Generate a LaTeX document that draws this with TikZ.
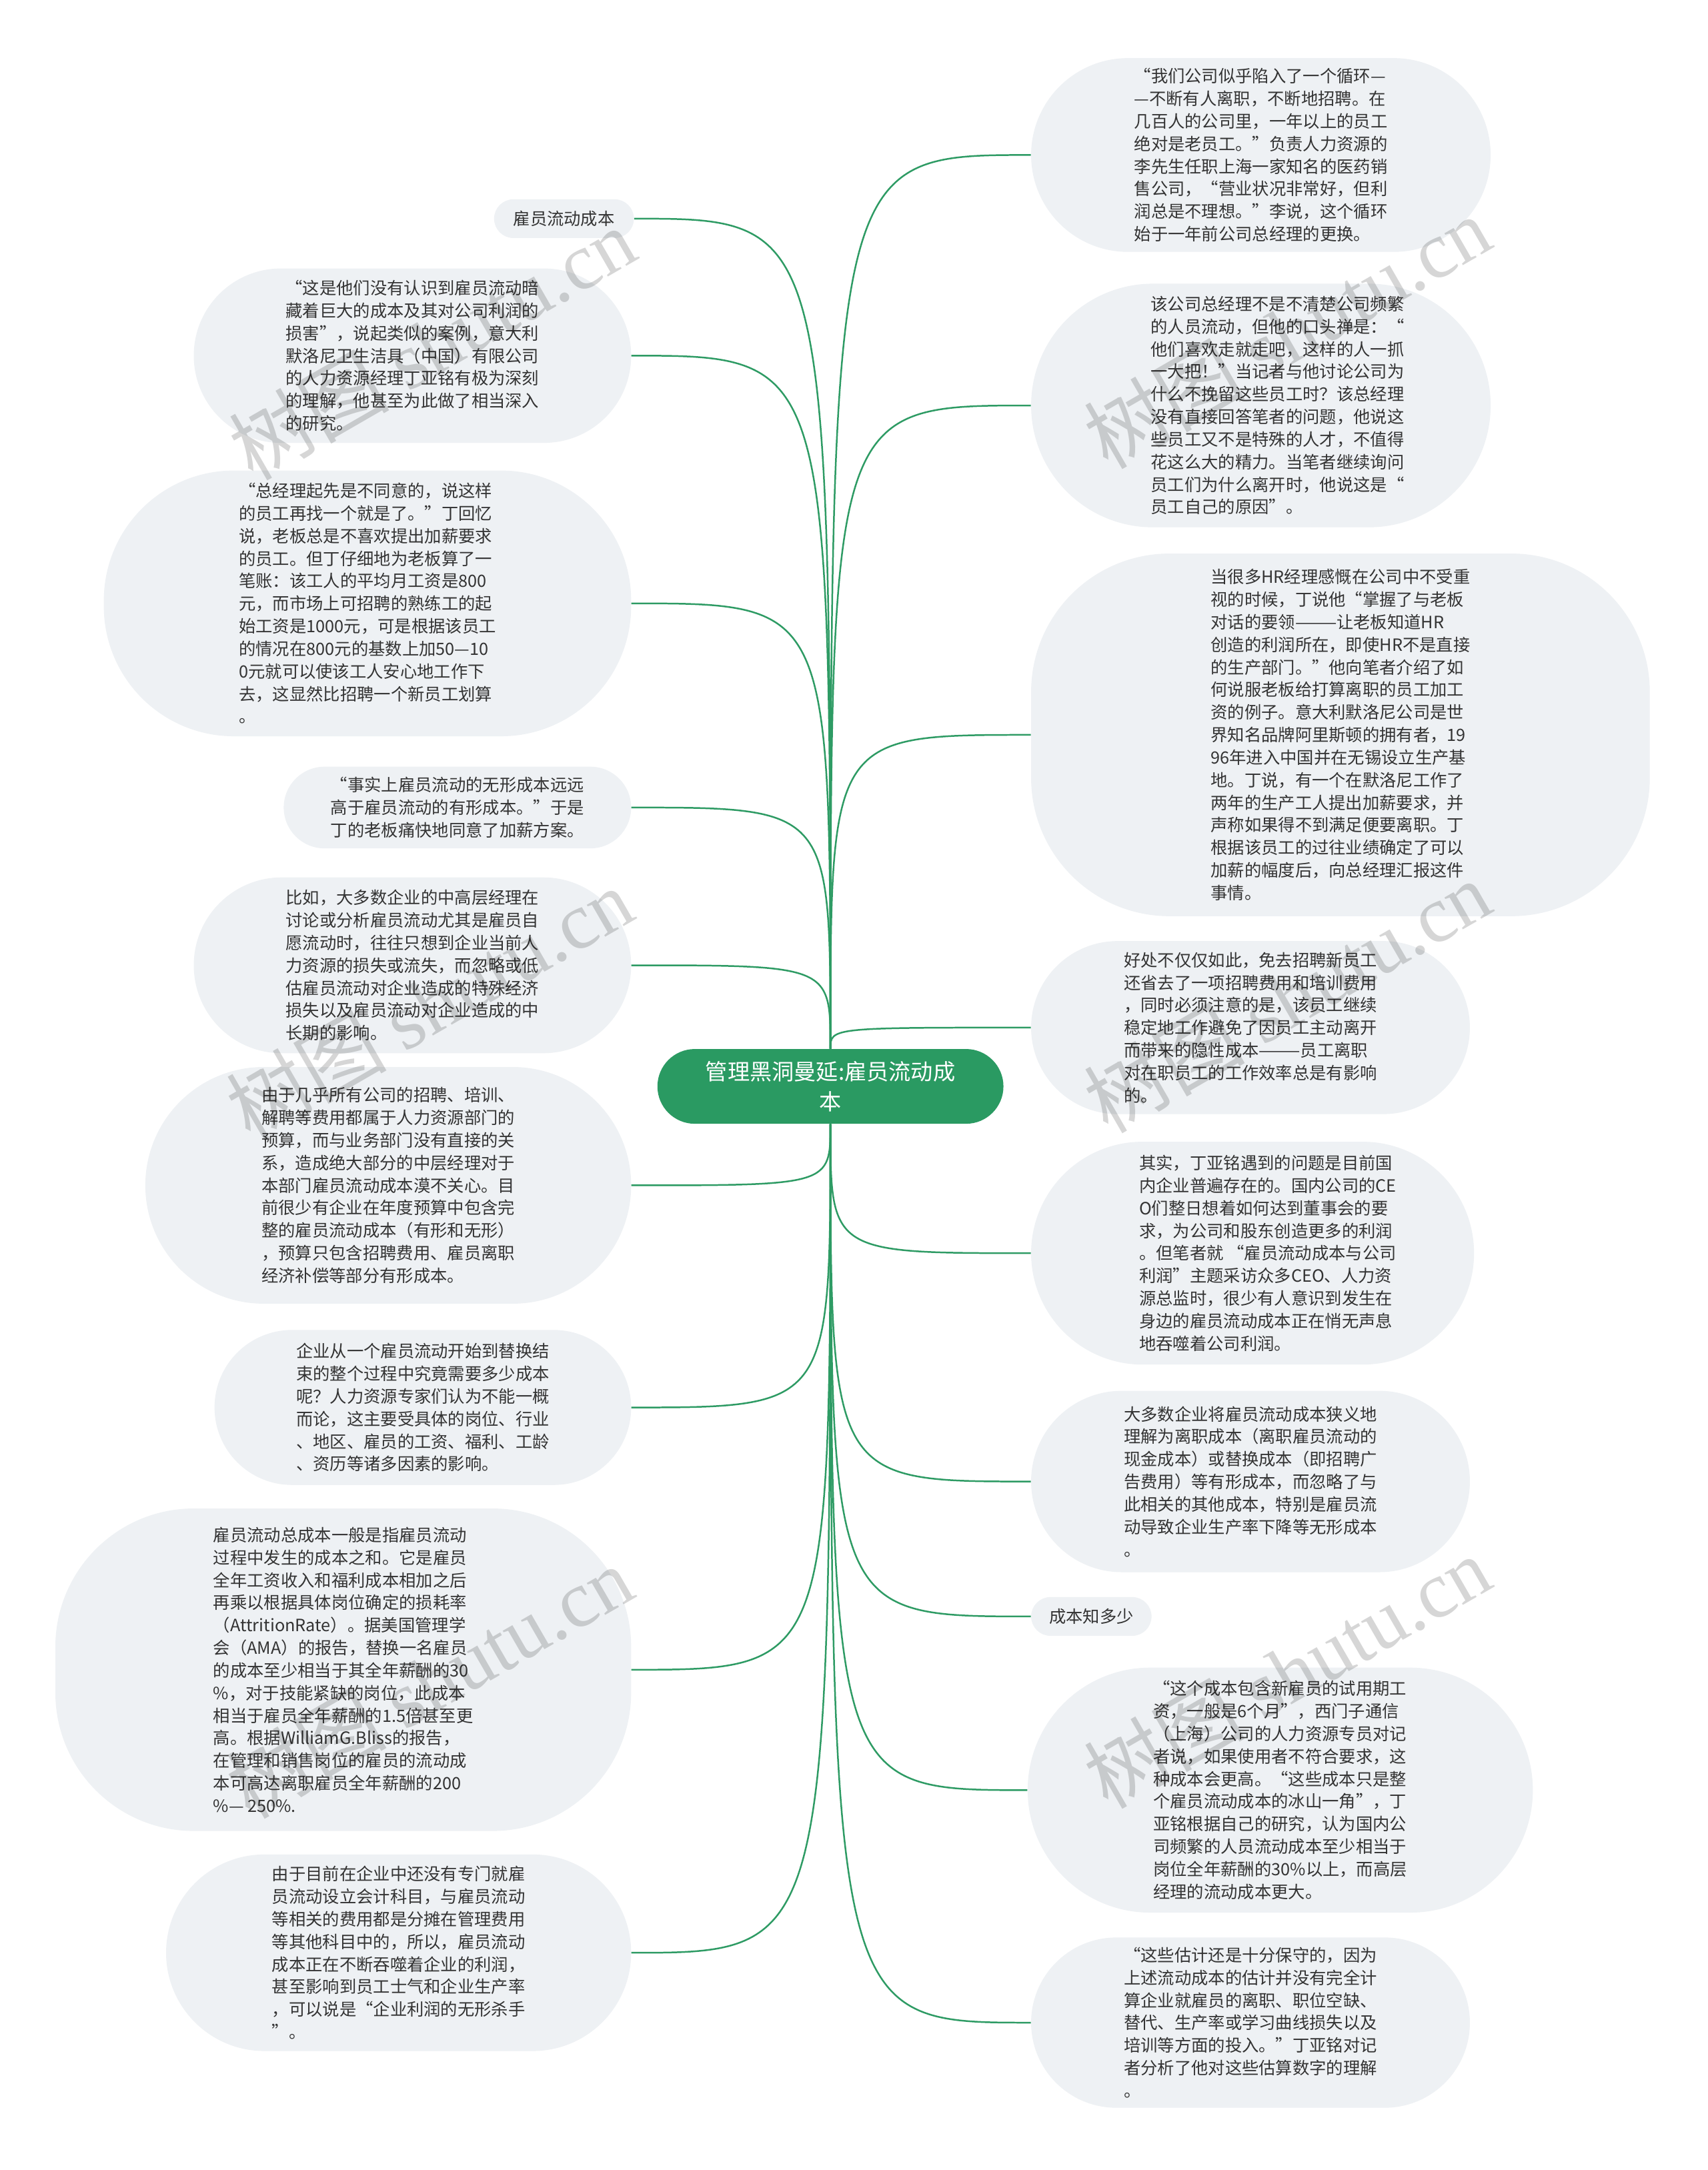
\documentclass[tikz,border=0pt]{standalone}
\usepackage{fontspec}
\setmainfont{Noto Sans CJK SC}
\newfontfamily\wmlatin{Liberation Serif}
\definecolor{nodefill}{HTML}{EEF1F4}
\definecolor{rootfill}{HTML}{2A9A62}
\definecolor{edgegreen}{HTML}{2E9B64}
\definecolor{txt}{HTML}{333333}
\tikzset{
  topic/.style={fill=nodefill, text=txt, font=\fontsize{12.2}{16.3}\selectfont, align=left, inner sep=0pt},
  box/.style n args={3}{minimum width=#1pt, minimum height=#2pt, rounded corners=#3pt},
  root/.style={fill=rootfill, text=white, font=\fontsize{16}{22}\selectfont, align=center, inner sep=0pt},
  conn/.style={draw=edgegreen, line width=1.2pt},
  wm/.style={text=black, opacity=0.16, font=\fontsize{58}{60}\selectfont, inner sep=0pt, rotate=30}
}
\begin{document}
\begin{tikzpicture}[x=1pt,y=-1pt]
\useasboundingbox[fill=white] (0,0) rectangle (1234,1568);

% root
\node[root, minimum width=250pt, minimum height=54pt, rounded corners=27pt] (c) at (600,785) {管理黑洞曼延:雇员流动成\\本};

% left nodes
\node[topic, box={101}{28}{14}] (L1) at (407.5,158) {雇员流动成本};
\node[topic, box={316}{126}{63}] (L2) at (298,257) {“这是他们没有认识到雇员流动暗\\藏着巨大的成本及其对公司利润的\\损害”，说起类似的案例，意大利\\默洛尼卫生洁具（中国）有限公司\\的人力资源经理丁亚铭有极为深刻\\的理解，他甚至为此做了相当深入\\的研究。};
\node[topic, box={381}{192}{94}] (L3) at (265.5,436) {“总经理起先是不同意的，说这样\\的员工再找一个就是了。”丁回忆\\说，老板总是不喜欢提出加薪要求\\的员工。但丁仔细地为老板算了一\\笔账：该工人的平均月工资是800\\元，而市场上可招聘的熟练工的起\\始工资是1000元，可是根据该员工\\的情况在800元的基数上加50—10\\0元就可以使该工人安心地工作下\\去，这显然比招聘一个新员工划算\\。};
\node[topic, box={251}{59}{29.5}] (L4) at (330.5,583.5) {“事实上雇员流动的无形成本远远\\高于雇员流动的有形成本。”于是\\丁的老板痛快地同意了加薪方案。};
\node[topic, box={316}{127}{63.5}] (L5) at (298,697.5) {比如，大多数企业的中高层经理在\\讨论或分析雇员流动尤其是雇员自\\愿流动时，往往只想到企业当前人\\力资源的损失或流失，而忽略或低\\估雇员流动对企业造成的特殊经济\\损失以及雇员流动对企业造成的中\\长期的影响。};
\node[topic, box={351}{171}{85.5}] (L6) at (280.5,856.5) {由于几乎所有公司的招聘、培训、\\解聘等费用都属于人力资源部门的\\预算，而与业务部门没有直接的关\\系，造成绝大部分的中层经理对于\\本部门雇员流动成本漠不关心。目\\前很少有企业在年度预算中包含完\\整的雇员流动成本（有形和无形）\\，预算只包含招聘费用、雇员离职\\经济补偿等部分有形成本。};
\node[topic, box={301}{112}{56}] (L7) at (305.5,1017) {企业从一个雇员流动开始到替换结\\束的整个过程中究竟需要多少成本\\呢？人力资源专家们认为不能一概\\而论，这主要受具体的岗位、行业\\、地区、雇员的工资、福利、工龄\\、资历等诸多因素的影响。};
\node[topic, box={416}{233}{100}] (L8) at (248,1206.5) {雇员流动总成本一般是指雇员流动\\过程中发生的成本之和。它是雇员\\全年工资收入和福利成本相加之后\\再乘以根据具体岗位确定的损耗率\\（AttritionRate）。据美国管理学\\会（AMA）的报告，替换一名雇员\\的成本至少相当于其全年薪酬的30\\\%，对于技能紧缺的岗位，此成本\\相当于雇员全年薪酬的1.5倍甚至更\\高。根据WilliamG.Bliss的报告，\\在管理和销售岗位的雇员的流动成\\本可高达离职雇员全年薪酬的200\\\%— 250\%.};
\node[topic, box={336}{142}{71}] (L9) at (288,1411) {由于目前在企业中还没有专门就雇\\员流动设立会计科目，与雇员流动\\等相关的费用都是分摊在管理费用\\等其他科目中的，所以，雇员流动\\成本正在不断吞噬着企业的利润，\\甚至影响到员工士气和企业生产率\\，可以说是“企业利润的无形杀手\\”。};

% right nodes
\node[topic, box={332}{140}{70}] (R1) at (911,112) {“我们公司似乎陷入了一个循环—\\—不断有人离职，不断地招聘。在\\几百人的公司里，一年以上的员工\\绝对是老员工。”负责人力资源的\\李先生任职上海一家知名的医药销\\售公司，“营业状况非常好，但利\\润总是不理想。”李说，这个循环\\始于一年前公司总经理的更换。};
\node[topic, box={332}{176}{88}] (R2) at (911,293) {};
\node[topic, fill=none] (R2t) at (923,293) {该公司总经理不是不清楚公司频繁\\的人员流动，但他的口头禅是：“\\他们喜欢走就走吧，这样的人一抓\\一大把！”当记者与他讨论公司为\\什么不挽留这些员工时？该总经理\\没有直接回答笔者的问题，他说这\\些员工又不是特殊的人才，不值得\\花这么大的精力。当笔者继续询问\\员工们为什么离开时，他说这是“\\员工自己的原因”。};
\node[topic, box={447}{262}{100}] (R3) at (968.5,531) {当很多HR经理感慨在公司中不受重\\视的时候，丁说他“掌握了与老板\\对话的要领———让老板知道HR\\创造的利润所在，即使HR不是直接\\的生产部门。”他向笔者介绍了如\\何说服老板给打算离职的员工加工\\资的例子。意大利默洛尼公司是世\\界知名品牌阿里斯顿的拥有者，19\\96年进入中国并在无锡设立生产基\\地。丁说，有一个在默洛尼工作了\\两年的生产工人提出加薪要求，并\\声称如果得不到满足便要离职。丁\\根据该员工的过往业绩确定了可以\\加薪的幅度后，向总经理汇报这件\\事情。};
\node[topic, box={317}{125}{62.5}] (R4) at (903.5,742.5) {好处不仅仅如此，免去招聘新员工\\还省去了一项招聘费用和培训费用\\，同时必须注意的是，该员工继续\\稳定地工作避免了因员工主动离开\\而带来的隐性成本———员工离职\\对在职员工的工作效率总是有影响\\的。};
\node[topic, box={320}{161}{80.5}] (R5) at (905,905.5) {};
\node[topic, fill=none] (R5t) at (916,905.5) {其实，丁亚铭遇到的问题是目前国\\内企业普遍存在的。国内公司的CE\\O们整日想着如何达到董事会的要\\求，为公司和股东创造更多的利润\\。但笔者就 “雇员流动成本与公司\\利润”主题采访众多CEO、人力资\\源总监时，很少有人意识到发生在\\身边的雇员流动成本正在悄无声息\\地吞噬着公司利润。};
\node[topic, box={317}{131}{65.5}] (R6) at (903.5,1070.5) {大多数企业将雇员流动成本狭义地\\理解为离职成本（离职雇员流动的\\现金成本）或替换成本（即招聘广\\告费用）等有形成本，而忽略了与\\此相关的其他成本，特别是雇员流\\动导致企业生产率下降等无形成本\\。};
\node[topic, box={87}{28}{14}] (R7) at (788.5,1168) {成本知多少};
\node[topic, box={365}{177}{88.5}] (R8) at (925,1293.5) {“这个成本包含新雇员的试用期工\\资，一般是6个月”，西门子通信\\（上海）公司的人力资源专员对记\\者说，如果使用者不符合要求，这\\种成本会更高。“这些成本只是整\\个雇员流动成本的冰山一角”，丁\\亚铭根据自己的研究，认为国内公\\司频繁的人员流动成本至少相当于\\岗位全年薪酬的30\%以上，而高层\\经理的流动成本更大。};
\node[topic, box={317}{123}{61.5}] (R9) at (903.5,1461.5) {“这些估计还是十分保守的，因为\\上述流动成本的估计并没有完全计\\算企业就雇员的离职、职位空缺、\\替代、生产率或学习曲线损失以及\\培训等方面的投入。”丁亚铭对记\\者分析了他对这些估算数字的理解\\。};

% connectors (upper)
\foreach \t in {L1,L2,L3,L4,L5}
  \draw[conn] (c.north) .. controls (c.north |- \t.east) .. (\t.east);
\foreach \t in {R1,R2,R3,R4}
  \draw[conn] (c.north) .. controls (c.north |- \t.west) .. (\t.west);
% connectors (lower)
\foreach \t in {L6,L7,L8,L9}
  \draw[conn] (c.south) .. controls (c.south |- \t.east) .. (\t.east);
\foreach \t in {R5,R6,R7,R8,R9}
  \draw[conn] (c.south) .. controls (c.south |- \t.west) .. (\t.west);

% watermarks
\node[wm] (w1) at (312,248) {树图 {\wmlatin shutu.cn}};
\node[wm] (w2) at (310,725) {树图 {\wmlatin shutu.cn}};
\node[wm] (w3) at (310,1215) {树图 {\wmlatin shutu.cn}};
\node[wm] (w4) at (930,240) {树图 {\wmlatin shutu.cn}};
\node[wm] (w5) at (930,720) {树图 {\wmlatin shutu.cn}};
\node[wm] (w6) at (930,1208) {树图 {\wmlatin shutu.cn}};
\end{tikzpicture}
\end{document}
